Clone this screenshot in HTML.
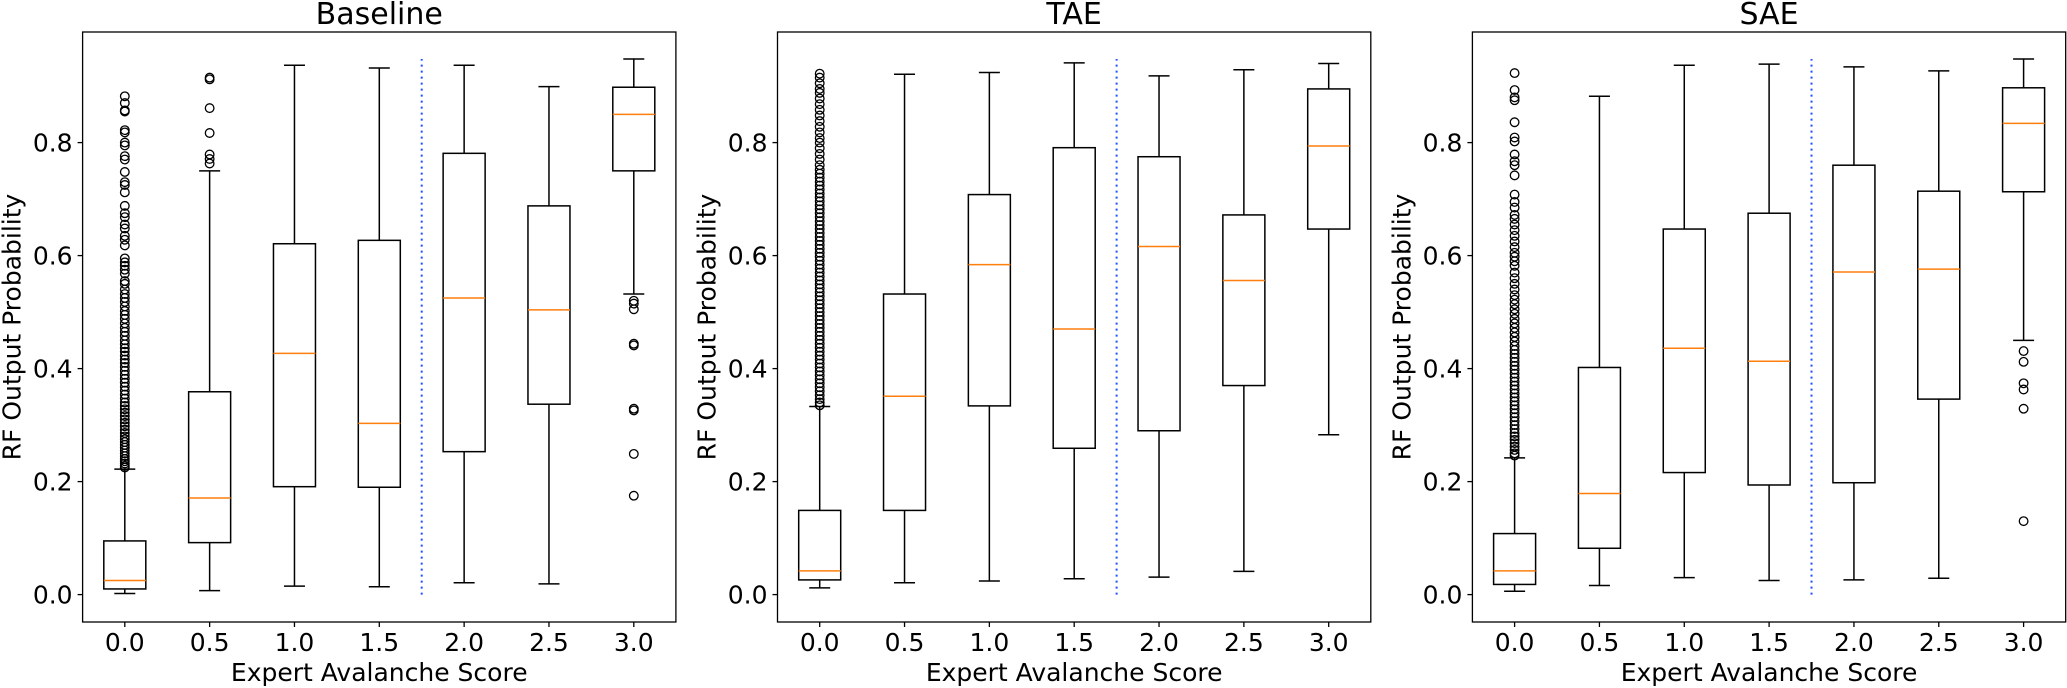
<!DOCTYPE html>
<html><head><meta charset="utf-8"><style>
html,body{margin:0;padding:0;background:#fff;}
svg{display:block;font-family:"DejaVu Sans","Liberation Sans",sans-serif;}
</style></head><body>
<svg id="chart" width="2067" height="688" viewBox="0 0 2067 688" xmlns="http://www.w3.org/2000/svg"></svg>
<script>
const categories = [0.0, 0.5, 1.0, 1.5, 2.0, 2.5, 3.0];
const catLabels = ["0.0","0.5","1.0","1.5","2.0","2.5","3.0"];
const yTicks = [0.0, 0.2, 0.4, 0.6, 0.8];
const yTickLabels = ["0.0","0.2","0.4","0.6","0.8"];
const panelTitles = ["Baseline","TAE","SAE"];
// [whislo, q1, med, q3, whishi]
const baselineStats = [[0.002,0.010,0.025,0.095,0.222],[0.007,0.092,0.171,0.359,0.750],[0.015,0.191,0.427,0.621,0.937],[0.014,0.190,0.303,0.627,0.932],[0.021,0.253,0.525,0.781,0.937],[0.019,0.337,0.504,0.688,0.899],[0.532,0.750,0.850,0.898,0.948]];
const taeStats = [[0.012,0.026,0.042,0.149,0.333],[0.021,0.149,0.351,0.532,0.921],[0.024,0.334,0.584,0.708,0.924],[0.028,0.259,0.470,0.791,0.941],[0.031,0.290,0.616,0.775,0.918],[0.041,0.370,0.556,0.672,0.929],[0.283,0.647,0.794,0.895,0.940]];
const saeStats = [[0.006,0.018,0.042,0.108,0.242],[0.016,0.082,0.179,0.402,0.882],[0.030,0.216,0.436,0.647,0.937],[0.025,0.194,0.413,0.675,0.939],[0.026,0.198,0.571,0.760,0.934],[0.029,0.346,0.576,0.714,0.927],[0.450,0.713,0.834,0.897,0.948]];
const baselineOut0 = [0.882,0.870,0.857,0.855,0.822,0.818,0.800,0.795,0.776,0.770,0.748,0.730,0.725,0.712,0.688,0.675,0.668,0.655,0.648,0.635,0.628,0.618,0.595,0.588,0.582,0.575,0.568,0.555,0.550,0.540,0.532,0.525,0.518,0.510,0.502,0.495,0.488,0.480,0.472,0.465,0.458,0.450,0.443,0.436,0.430,0.423,0.416,0.410,0.403,0.396,0.389,0.382,0.375,0.368,0.361,0.354,0.347,0.340,0.334,0.328,0.322,0.316,0.310,0.304,0.298,0.292,0.286,0.280,0.275,0.270,0.265,0.260,0.255,0.250,0.245,0.240,0.236,0.232,0.228,0.225];
const baselineOut05 = [0.915,0.912,0.861,0.817,0.779,0.771,0.763];
const baselineOut30 = [0.520,0.515,0.505,0.444,0.441,0.329,0.326,0.249,0.175];
const taeOut0 = [0.922,0.915,0.905,0.895,0.888,0.878,0.868,0.858,0.848,0.838,0.828,0.818,0.808,0.800,0.790,0.780,0.770,0.760,0.752,0.745,0.738,0.731,0.724,0.717,0.710,0.703,0.696,0.689,0.682,0.675,0.668,0.661,0.654,0.647,0.640,0.633,0.626,0.619,0.612,0.605,0.598,0.591,0.584,0.577,0.570,0.563,0.556,0.549,0.542,0.535,0.528,0.521,0.514,0.507,0.500,0.493,0.486,0.479,0.472,0.465,0.458,0.451,0.444,0.437,0.430,0.423,0.416,0.409,0.402,0.395,0.388,0.381,0.374,0.367,0.360,0.353,0.346,0.340,0.335];
const saeOut0 = [0.923,0.893,0.880,0.875,0.836,0.809,0.802,0.779,0.767,0.760,0.742,0.708,0.695,0.685,0.672,0.665,0.655,0.645,0.635,0.625,0.615,0.605,0.598,0.590,0.582,0.570,0.560,0.550,0.540,0.530,0.522,0.514,0.505,0.497,0.488,0.480,0.472,0.464,0.456,0.448,0.440,0.433,0.426,0.419,0.412,0.405,0.398,0.391,0.384,0.377,0.370,0.363,0.356,0.349,0.342,0.335,0.328,0.321,0.314,0.307,0.300,0.293,0.286,0.280,0.274,0.268,0.262,0.256,0.250,0.246];
const saeOut30 = [0.431,0.412,0.374,0.363,0.329,0.130];

const panels = [
  {left:82.6, title:panelTitles[0], stats:baselineStats, outliers:[[0,baselineOut0],[1,baselineOut05],[6,baselineOut30]]},
  {left:777.5, title:panelTitles[1], stats:taeStats, outliers:[[0,taeOut0]]},
  {left:1472.4, title:panelTitles[2], stats:saeStats, outliers:[[0,saeOut0],[6,saeOut30]]}
];
const NS="http://www.w3.org/2000/svg";
const svg=document.getElementById('chart');
function mk(tag,attrs,parent){const e=document.createElementNS(NS,tag);for(const k in attrs)e.setAttribute(k,attrs[k]);(parent||svg).appendChild(e);return e;}
const W=593.3, TOP=32, BOT=622;
const y=v=>594.6-v*565;
panels.forEach((p,pi)=>{
  const g=mk('g',{});
  
  
  const x=c=>p.left+42.2+(c/3)*509;
  const t=mk('text',{x:p.left+W/2,y:24,'text-anchor':'middle','font-size':30,fill:'#000'},g);t.textContent=p.title;
  
  
  yTicks.forEach((v,i)=>{
    const tk=mk('line',{x1:p.left-5,x2:p.left,y1:y(v),y2:y(v),stroke:'#000','stroke-width':1.3},g);
    
    
    const tl=mk('text',{x:p.left-10,y:y(v)+9,'text-anchor':'end','font-size':25},g);tl.textContent=yTickLabels[i];
    
    
  });
  categories.forEach((c,i)=>{
    const tk=mk('line',{x1:x(c),x2:x(c),y1:BOT,y2:BOT+5,stroke:'#000','stroke-width':1.3},g);
    
    
    const tl=mk('text',{x:x(c),y:651,'text-anchor':'middle','font-size':25},g);tl.textContent=catLabels[i];
    
    
  });
  const yl=mk('text',{x:0,y:0,'text-anchor':'middle','font-size':25,transform:`translate(${p.left-62},${(TOP+BOT)/2}) rotate(-90)`},g);yl.textContent='RF Output Probability';
  
  
  const xl=mk('text',{x:p.left+W/2,y:681,'text-anchor':'middle','font-size':25},g);xl.textContent='Expert Avalanche Score';
  
  
  const dl=mk('line',{x1:x(1.75),x2:x(1.75),y1:y(0),y2:y(0.948),stroke:'#1f4fff','stroke-width':2,'stroke-dasharray':'2,4'},g);
  
  
  p.stats.forEach((s,i)=>{
    const cx=x(categories[i]);const bw=42;
    const bg=mk('g',{stroke:'#000','stroke-width':1.5,fill:'none'},g);
    
    
    mk('line',{x1:cx,x2:cx,y1:y(s[0]),y2:y(s[1])},bg);
    mk('line',{x1:cx,x2:cx,y1:y(s[3]),y2:y(s[4])},bg);
    mk('line',{x1:cx-bw/4,x2:cx+bw/4,y1:y(s[0]),y2:y(s[0])},bg);
    mk('line',{x1:cx-bw/4,x2:cx+bw/4,y1:y(s[4]),y2:y(s[4])},bg);
    mk('rect',{x:cx-bw/2,y:y(s[3]),width:bw,height:y(s[1])-y(s[3])},bg);
    mk('line',{x1:cx-bw/2,x2:cx+bw/2,y1:y(s[2]),y2:y(s[2]),stroke:'#ff7f0e'},bg);
  });
  p.outliers.forEach(([ci,vals])=>{
    const og=mk('g',{stroke:'#000','stroke-width':1.3,fill:'none'},g);
    
    
    vals.forEach(v=>{mk('circle',{cx:x(categories[ci]),cy:y(v),r:4.3},og);});
  });
  const fr=mk('rect',{x:p.left,y:TOP,width:W,height:BOT-TOP,fill:'none',stroke:'#000','stroke-width':1.3},g);
  
  
});
</script>
</body></html>
